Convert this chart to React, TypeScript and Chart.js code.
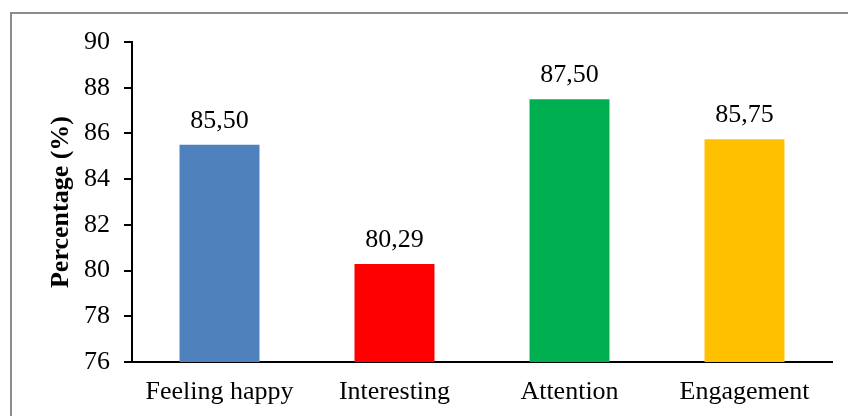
import React, { useEffect, useRef } from "react";
import { Chart, registerables } from "chart.js";

Chart.register(...registerables);

const categories = ["Feeling happy", "Interesting", "Attention", "Engagement"];
const values = [85.5, 80.29, 87.5, 85.75];
const barColors = ["#4F81BD", "#FF0000", "#00B050", "#FFC000"];
const yTitle = "Percentage (%)";
const yMin = 76;
const yMax = 90;
const yStep = 2;

const FONT = "'Liberation Serif', 'Times New Roman', serif";

const framePlugin = {
  id: "frame",
  beforeDraw(chart: any) {
    const ctx = chart.ctx;
    ctx.save();
    ctx.fillStyle = "#ffffff";
    ctx.fillRect(0, 0, chart.width, chart.height);
    ctx.strokeStyle = "#8c8c8c";
    ctx.lineWidth = 2;
    ctx.strokeRect(11, 13, 1000, 1000);
    ctx.restore();
  },
};

const valueLabelPlugin = {
  id: "valueLabels",
  afterDatasetsDraw(chart: any) {
    const ctx = chart.ctx;
    const meta = chart.getDatasetMeta(0);
    ctx.save();
    ctx.font = `26px ${FONT}`;
    ctx.fillStyle = "#000000";
    ctx.textAlign = "center";
    ctx.textBaseline = "alphabetic";
    meta.data.forEach((bar: any, i: number) => {
      const txt = values[i].toFixed(2).replace(".", ",");
      ctx.fillText(txt, bar.x, bar.y - 17);
    });
    ctx.restore();
  },
};

export default function App() {
  const ref = useRef<HTMLCanvasElement>(null);
  useEffect(() => {
    if (!ref.current) return;
    const chart = new Chart(ref.current, {
      type: "bar",
      data: {
        labels: categories,
        datasets: [
          {
            data: values,
            backgroundColor: barColors,
            borderWidth: 0,
            barPercentage: 0.457,
            categoryPercentage: 1,
          },
        ],
      },
      options: {
        animation: false,
        responsive: false,
        maintainAspectRatio: false,
        devicePixelRatio: 1,
        layout: { padding: { left: 0, top: 42, right: 16, bottom: 0 } },
        plugins: {
          legend: { display: false },
          tooltip: { enabled: false },
        },
        scales: {
          x: {
            grid: { display: true, drawOnChartArea: false, drawTicks: false },
            border: { display: true, color: "#000000", width: 2 },
            ticks: {
              color: "#000000",
              font: { family: FONT, size: 26 },
              padding: 15,
              maxRotation: 0,
              autoSkip: false,
            },
            afterFit(scale: any) {
              scale.height = 54;
            },
          },
          y: {
            min: yMin,
            max: yMax,
            grid: {
              display: true,
              drawOnChartArea: false,
              drawTicks: true,
              tickLength: 8,
              color: "#000000",
              lineWidth: 2,
            },
            border: { display: true, color: "#000000", width: 2 },
            ticks: {
              stepSize: yStep,
              color: "#000000",
              font: { family: FONT, size: 26 },
              padding: 14,
            },
            title: {
              display: true,
              text: yTitle,
              color: "#000000",
              font: { family: FONT, size: 26, weight: "bold" },
              padding: { top: 46, bottom: 0 },
            },
            afterFit(scale: any) {
              scale.width = 132;
            },
          },
        },
      },
      plugins: [framePlugin, valueLabelPlugin],
    });
    return () => chart.destroy();
  }, []);
  return (
    <div style={{ position: "fixed", left: 0, top: 0, width: 848, height: 416 }}>
      <canvas ref={ref} width={848} height={416} style={{ width: 848, height: 416 }} />
    </div>
  );
}
